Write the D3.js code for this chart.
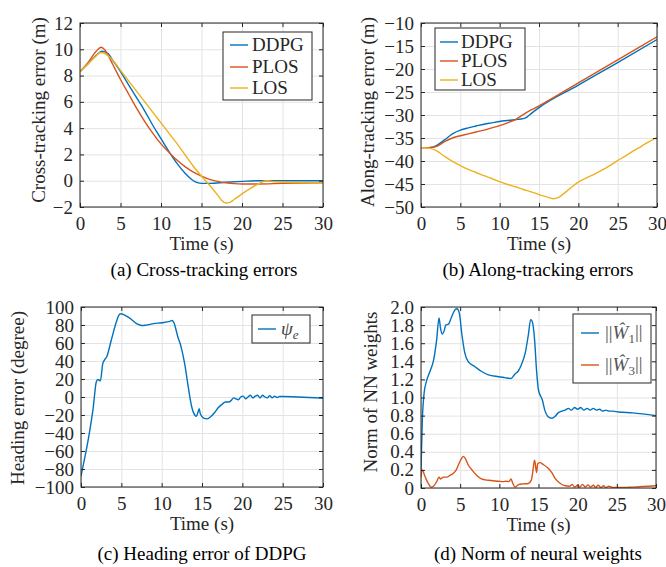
<!DOCTYPE html>
<html>
<head>
<meta charset="utf-8">
<title>Path following results</title>
<script src="https://d3js.org/d3.v7.min.js"></script>
<style>
  body { margin: 0; background: #fff; }
  svg { display: block; }
  .grid line { stroke: #e3e3e3; }
  .grid path { display: none; }
  .ax path { display: none; }
  .ax line { stroke: #262626; }
</style>
</head>
<body>
<script>
// ---- data ----
var timeTicks = [0, 5, 10, 15, 20, 25, 30];
var seriesNames = ["DDPG", "PLOS", "LOS"];
var colors = ["#0072BD", "#D95319", "#EDB120"];
var FONT = "Liberation Serif";

// (a) cross-tracking error
var ddpgCrossT = [0,1,2,2.7,3.5,4,5,6,7,8,9,10,11,12,13,13.5,14,14.5,15,16,18,20,22,25,30];
var ddpgCross  = [8.3,8.9,9.55,9.85,9.65,9.2,8.3,7.3,6.3,5.3,4.2,3.2,2.2,1.3,0.55,0.25,0.0,-0.15,-0.2,-0.2,-0.12,-0.05,0,0,0];
var plosCrossT = [0,1,2,2.6,3,4,5,6,7,8,9,10,11,12,13,14,15,16,17,18,19,20,22,25,30];
var plosCross  = [8.3,9.0,9.85,10.15,10.0,8.9,7.7,6.6,5.5,4.5,3.6,2.8,2.15,1.55,1.05,0.65,0.35,0.1,-0.05,-0.15,-0.22,-0.25,-0.25,-0.2,-0.15];
var losCrossT  = [0,1,2,2.5,3,4,5,6,7,8,9,10,11,12,13,14,15,16,17,17.5,18,18.5,19,20,21,22,23,23.5,24,25,30];
var losCross   = [8.3,8.9,9.5,9.75,9.7,9.2,8.4,7.6,6.8,6.0,5.2,4.4,3.6,2.8,1.95,1.1,0.35,-0.35,-1.1,-1.5,-1.7,-1.65,-1.45,-1.0,-0.6,-0.25,0.0,-0.03,-0.08,-0.12,-0.15];
var crossTicks = [-2, 0, 2, 4, 6, 8, 10, 12];

// (b) along-tracking error
var ddpgAlongT = [0,1,1.5,2,3,4,5,6,7,8,9,10,11,12,13,13.5,14,15,20,25,30];
var ddpgAlong  = [-37.1,-37.1,-37.0,-36.6,-35.4,-34.1,-33.3,-32.8,-32.4,-32.0,-31.7,-31.4,-31.2,-31.0,-30.8,-30.4,-29.7,-28.4,-23.5,-18.6,-13.6];
var plosAlongT = [0,1,1.5,2,3,4,5,6,7,8,9,10,11,12,13,14,15,20,25,30];
var plosAlong  = [-37.1,-37.1,-37.0,-36.8,-35.8,-35.0,-34.5,-34.1,-33.7,-33.3,-32.8,-32.3,-31.7,-31.0,-29.9,-28.9,-28.0,-23.0,-18.0,-13.0];
var losAlongT  = [0,1,2,3,4,5,6,7,8,9,10,11,12,13,14,15,16,16.8,17.5,18,19,20,21,22,23,24,25,26,27,28,29,30];
var losAlong   = [-37.1,-37.2,-37.8,-39.0,-40.1,-41.0,-41.8,-42.5,-43.2,-43.8,-44.5,-45.1,-45.6,-46.2,-46.7,-47.3,-47.8,-48.2,-47.9,-47.3,-45.9,-44.6,-43.7,-42.9,-42.0,-41.0,-39.9,-38.9,-37.8,-36.8,-35.8,-34.9];
var alongTicks = [-50, -45, -40, -35, -30, -25, -20, -15, -10];

// (c) heading error of DDPG
var headingT = [0,0.5,1,1.5,1.9,2.1,2.4,2.7,2.9,3.2,3.75,4.4,4.8,5.0,5.4,6,7,7.5,8,9,10,11,11.25,11.5,12.0,12.4,12.85,13.3,13.7,14.1,14.3,14.5,14.65,14.8,15.2,15.6,16,16.6,17,17.5,17.9,18.3,18.6,18.9,19.2,19.5,19.8,20.1,20.4,20.7,21.0,21.3,21.6,21.9,22.2,22.5,22.8,23.1,23.4,23.7,24.0,24.3,24.6,25,27,30];
var heading  = [-88,-66,-42,-13,17,19.5,18,37,41,45,63,84,92,92.5,91,88,81,79.5,79.8,81.5,82.5,84,85,83,67,56,37,11,-10,-20,-21.5,-17,-13,-19,-23.5,-24.3,-22.5,-17,-12,-8,-5.5,-5.5,-4,-1,-2,-3,0,1,-2,0,2,-1,1,2,-1,2,0,-1,1.5,-1,1,-0.5,0.5,0.5,0,-1.5];
var headingTicks = [-100, -80, -60, -40, -20, 0, 20, 40, 60, 80, 100];

// (d) norm of neural weights
var w1T = [0,0.17,0.4,0.7,1.15,1.6,2.0,2.3,2.5,2.7,3.0,3.15,3.5,3.9,4.35,4.6,4.9,5.2,5.6,6.0,6.9,7.7,8.6,9.9,10.7,11.5,12,12.4,12.8,13.3,13.7,14.0,14.2,14.5,14.75,15.0,15.5,15.8,16.2,16.7,17.1,17.5,18.0,18.4,18.8,19.2,19.6,20.0,20.4,20.8,21.2,21.6,22.0,22.4,22.8,23.2,23.6,24.0,24.5,25.2,27,30];
var w1  = [0.2,0.75,1.05,1.18,1.29,1.41,1.64,1.88,1.76,1.70,1.75,1.80,1.81,1.89,1.97,1.98,1.93,1.71,1.49,1.40,1.34,1.29,1.25,1.23,1.22,1.21,1.26,1.29,1.36,1.49,1.69,1.86,1.84,1.64,1.30,1.08,0.97,0.86,0.79,0.77,0.79,0.83,0.85,0.86,0.88,0.86,0.89,0.87,0.89,0.86,0.88,0.86,0.88,0.86,0.87,0.85,0.86,0.85,0.85,0.84,0.83,0.80];
var w3T = [0,0.15,0.5,0.9,1.3,1.6,2.0,2.3,2.5,2.85,3.3,3.7,4.1,4.5,4.85,5.2,5.4,5.7,6.0,6.5,7.1,7.7,8.6,9.9,10.5,10.9,11.2,11.5,11.7,12.0,12.4,13.0,13.7,14.1,14.3,14.5,14.75,14.9,15.2,15.6,16.2,16.7,17.1,17.7,18.4,19.0,19.3,19.6,20.0,20.3,20.6,21.0,21.3,21.6,22.0,22.3,22.6,23.0,23.3,23.6,24.0,24.5,25.2,27,30];
var w3  = [0.12,0.2,0.13,0.055,0.01,0.02,0.07,0.12,0.1,0.12,0.12,0.14,0.16,0.2,0.27,0.33,0.35,0.32,0.26,0.2,0.14,0.1,0.085,0.075,0.07,0.075,0.07,0.1,0.055,0.01,0.035,0.045,0.05,0.09,0.2,0.31,0.17,0.27,0.28,0.26,0.22,0.17,0.11,0.055,0.025,0.02,0.04,0.01,0.03,0.01,0.04,0.01,0.035,0.01,0.03,0.005,0.03,0.005,0.025,0.005,0.02,0.005,0.005,0.01,0.025];
var normTicks = [0, 0.2, 0.4, 0.6, 0.8, 1.0, 1.2, 1.4, 1.6, 1.8, 2.0];

function pairs(t, v) { return t.map(function(d, i) { return [d, v[i]]; }); }

var svg = d3.select("body").append("svg").attr("width", 666).attr("height", 567)
  .attr("font-family", FONT);

var clipId = 0;
function panel(o) {
  var x = d3.scaleLinear().domain([0, 30]).range([o.left, o.right]);
  var y = d3.scaleLinear().domain(o.yDomain).range([o.bottom, o.top]);
  var w = o.right - o.left, h = o.bottom - o.top;
  var g = svg.append("g");

  // grid
  g.append("g").attr("class", "grid").attr("transform", "translate(0," + o.bottom + ")")
    .call(d3.axisBottom(x).tickValues(timeTicks).tickSize(-h).tickFormat(""));
  g.append("g").attr("class", "grid").attr("transform", "translate(" + o.left + ",0)")
    .call(d3.axisLeft(y).tickValues(o.yTicks).tickSize(-w).tickFormat(""));

  // series
  clipId++;
  g.append("clipPath").attr("id", "clip" + clipId).append("rect")
    .attr("x", o.left).attr("y", o.top).attr("width", w).attr("height", h);
  var line = d3.line().x(function(d) { return x(d[0]); }).y(function(d) { return y(d[1]); })
    .curve(d3.curveMonotoneX);
  o.series.forEach(function(s) {
    g.append("path").datum(s.data).attr("clip-path", "url(#clip" + clipId + ")")
      .attr("fill", "none").attr("stroke", s.color).attr("stroke-width", 1.4)
      .attr("stroke-linejoin", "round").attr("d", line);
  });

  // axes, ticks pointing inward on all four sides
  g.append("g").attr("class", "ax").attr("transform", "translate(0," + o.bottom + ")")
    .call(d3.axisBottom(x).tickValues(timeTicks).tickSize(-4).tickSizeOuter(0).tickPadding(9.5));
  g.append("g").attr("class", "ax").attr("transform", "translate(0," + o.top + ")")
    .call(d3.axisTop(x).tickValues(timeTicks).tickSize(-4).tickSizeOuter(0).tickFormat(""));
  g.append("g").attr("class", "ax").attr("transform", "translate(" + o.left + ",0)")
    .call(d3.axisLeft(y).tickValues(o.yTicks).tickSize(-4).tickSizeOuter(0).tickPadding(7).tickFormat(o.fmt || null));
  g.append("g").attr("class", "ax").attr("transform", "translate(" + o.right + ",0)")
    .call(d3.axisRight(y).tickValues(o.yTicks).tickSize(-4).tickSizeOuter(0).tickFormat(""));
  g.selectAll(".ax, .grid").attr("font-family", FONT).attr("font-size", 19);
  g.selectAll(".ax text").attr("fill", "#262626");
  g.append("rect").attr("x", o.left).attr("y", o.top).attr("width", w).attr("height", h)
    .attr("fill", "none").attr("stroke", "#262626").attr("stroke-width", 1);

  // labels
  g.append("text").attr("x", (o.left + o.right) / 2).attr("y", o.bottom + 43)
    .attr("text-anchor", "middle").attr("font-size", 19).attr("fill", "#262626").text("Time (s)");
  g.append("text").attr("transform", "translate(" + o.ylabX + "," + o.ylabY + ") rotate(-90)")
    .attr("text-anchor", "middle").attr("font-size", 19).attr("fill", "#262626").text(o.ylabel);
  g.append("text").attr("x", o.capX).attr("y", o.capY)
    .attr("text-anchor", "middle").attr("font-size", 19).attr("fill", "#000").text(o.caption);

  // legend
  var L = o.legend;
  g.append("rect").attr("x", L.x).attr("y", L.y).attr("width", L.w).attr("height", L.h)
    .attr("fill", "#fff").attr("stroke", "#262626").attr("stroke-width", 1);
  o.series.forEach(function(s, i) {
    var yy = L.rows[i];
    g.append("line").attr("x1", L.lx).attr("x2", L.lx + 18).attr("y1", yy).attr("y2", yy)
      .attr("stroke", s.color).attr("stroke-width", 1.4);
    var t = g.append("text").attr("x", L.tx).attr("y", yy).attr("dy", "0.34em")
      .attr("font-size", 19).attr("fill", "#262626");
    s.label(t);
  });
}

function plain(str) { return function(t) { t.text(str); }; }
function wnorm(k) {
  return function(t) {
    t.append("tspan").attr("fill", "#555").text("||");
    t.append("tspan").attr("font-style", "italic").attr("fill", "#555").text("\u0174");
    t.append("tspan").attr("font-size", 13).attr("dy", "0.3em").attr("fill", "#555").text(k);
    t.append("tspan").attr("dy", "-0.3em").attr("fill", "#555").text("||");
  };
}

panel({
  left: 80, right: 323, top: 23, bottom: 207, yDomain: [-2, 12], yTicks: crossTicks,
  ylabel: "Cross-tracking error (m)", ylabX: 45, ylabY: 110,
  caption: "(a) Cross-tracking errors", capX: 204, capY: 276,
  series: [
    { data: pairs(ddpgCrossT, ddpgCross), color: colors[0], label: plain(seriesNames[0]) },
    { data: pairs(plosCrossT, plosCross), color: colors[1], label: plain(seriesNames[1]) },
    { data: pairs(losCrossT, losCross), color: colors[2], label: plain(seriesNames[2]) }
  ],
  legend: { x: 223, y: 32, w: 89, h: 68, rows: [45, 67, 88], lx: 230, tx: 252 }
});

panel({
  left: 421, right: 657, top: 23, bottom: 207, yDomain: [-50, -10], yTicks: alongTicks,
  ylabel: "Along-tracking error (m)", ylabX: 374, ylabY: 112,
  caption: "(b) Along-tracking errors", capX: 538, capY: 276,
  series: [
    { data: pairs(ddpgAlongT, ddpgAlong), color: colors[0], label: plain(seriesNames[0]) },
    { data: pairs(plosAlongT, plosAlong), color: colors[1], label: plain(seriesNames[1]) },
    { data: pairs(losAlongT, losAlong), color: colors[2], label: plain(seriesNames[2]) }
  ],
  legend: { x: 435, y: 28, w: 90, h: 62, rows: [42, 61, 80], lx: 440, tx: 461 }
});

panel({
  left: 81, right: 323, top: 307, bottom: 487, yDomain: [-100, 100], yTicks: headingTicks,
  ylabel: "Heading error (degree)", ylabX: 24, ylabY: 398,
  caption: "(c) Heading error of DDPG", capX: 202, capY: 560,
  series: [
    { data: pairs(headingT, heading), color: colors[0], label: function(t) {
        t.append("tspan").attr("font-style", "italic").attr("fill", "#444").text("\u03C8");
        t.append("tspan").attr("font-style", "italic").attr("font-size", 13).attr("dy", "0.3em").attr("fill", "#444").text("e");
      } }
  ],
  legend: { x: 252, y: 315, w: 58, h: 28, rows: [329], lx: 258, tx: 281 }
});

panel({
  left: 421, right: 656, top: 307, bottom: 488, yDomain: [0, 2], yTicks: normTicks,
  fmt: function(d) { return d === 0 ? "0" : d.toFixed(1); },
  ylabel: "Norm of NN weights", ylabX: 377, ylabY: 392,
  caption: "(d) Norm of neural weights", capX: 538, capY: 560,
  series: [
    { data: pairs(w1T, w1), color: colors[0], label: wnorm("1") },
    { data: pairs(w3T, w3), color: colors[1], label: wnorm("3") }
  ],
  legend: { x: 573, y: 314, w: 78, h: 69, rows: [333, 365], lx: 581, tx: 605 }
});
</script>
</body>
</html>
